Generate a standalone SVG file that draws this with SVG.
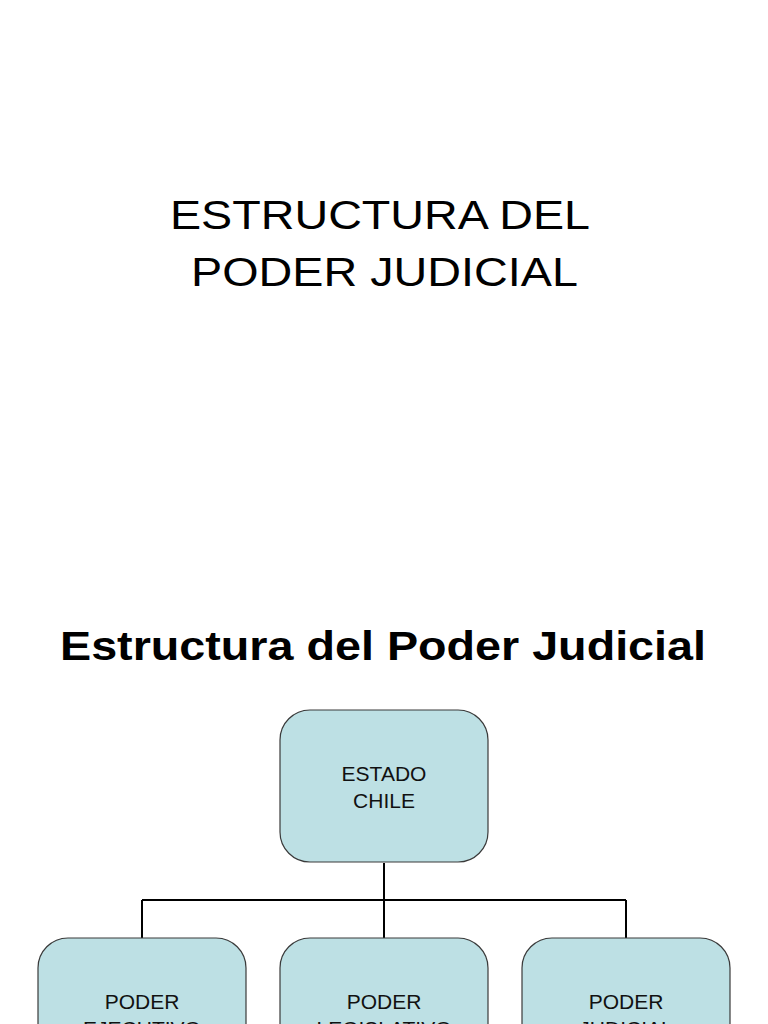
<svg xmlns="http://www.w3.org/2000/svg" width="768" height="1024" viewBox="0 0 768 1024">
<style>
.t{font-family:"Liberation Sans",Arial,sans-serif;fill:#000}
.box{fill:#BDE0E4;stroke:#3a3a3a;stroke-width:1.2}
.lbl{font-family:"Liberation Sans",Arial,sans-serif;font-size:21px;fill:#111;text-anchor:middle}
.conn{fill:none;stroke:#000;stroke-width:2}
</style>
<rect width="768" height="1024" fill="#fff"/>
<text class="t" x="170" y="229" font-size="41" textLength="420" lengthAdjust="spacingAndGlyphs">ESTRUCTURA DEL</text>
<text class="t" x="191" y="286" font-size="41" textLength="387" lengthAdjust="spacingAndGlyphs">PODER JUDICIAL</text>
<text class="t" x="60" y="660" font-size="41" font-weight="bold" textLength="646" lengthAdjust="spacingAndGlyphs">Estructura del Poder Judicial</text>
<g id="connectors">
<path class="conn" d="M384 863 V938 M142 900 H626 M142 900 V938 M626 900 V938"/>
</g>
<g id="estado">
<rect class="box" x="280" y="710" width="208" height="152" rx="30"/>
<text class="lbl" x="384" y="781">ESTADO</text>
<text class="lbl" x="384" y="808">CHILE</text>
</g>
<g id="ejecutivo">
<rect class="box" x="38" y="938" width="208" height="152" rx="30"/>
<text class="lbl" x="142" y="1009">PODER</text>
<text class="lbl" x="142" y="1036">EJECUTIVO</text>
</g>
<g id="legislativo">
<rect class="box" x="280" y="938" width="208" height="152" rx="30"/>
<text class="lbl" x="384" y="1009">PODER</text>
<text class="lbl" x="384" y="1036">LEGISLATIVO</text>
</g>
<g id="judicial">
<rect class="box" x="522" y="938" width="208" height="152" rx="30"/>
<text class="lbl" x="626" y="1009">PODER</text>
<text class="lbl" x="626" y="1036">JUDICIAL</text>
</g>
</svg>
